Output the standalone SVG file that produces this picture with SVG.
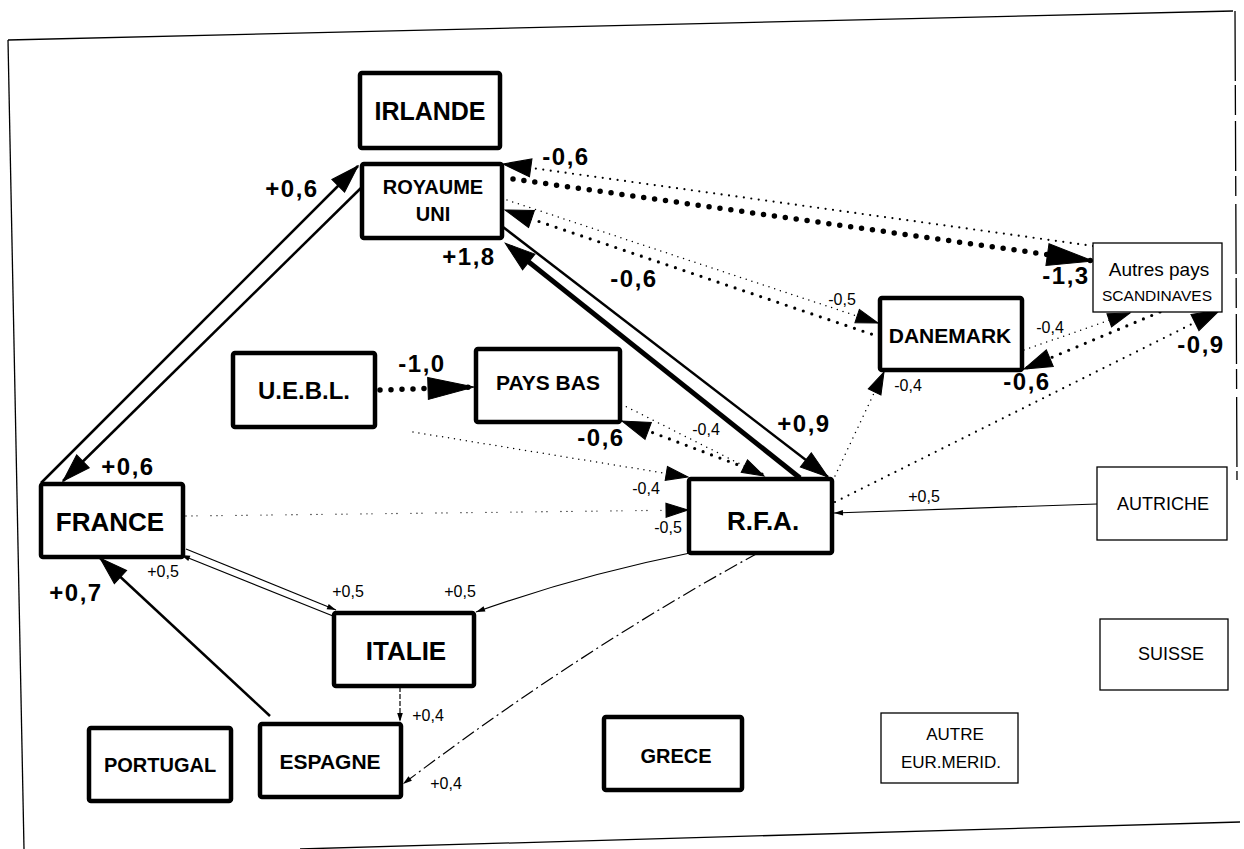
<svg xmlns="http://www.w3.org/2000/svg" width="1244" height="849" viewBox="0 0 1244 849">
<defs>
<style>
.thick{fill:#fff;stroke:#000;stroke-width:4.5}
.thin{fill:#fff;stroke:#000;stroke-width:1.3}
.nb{font-family:"Liberation Sans",Arial,sans-serif;font-weight:bold;text-anchor:middle;fill:#000}
.nr{font-family:"Liberation Sans",Arial,sans-serif;text-anchor:middle;fill:#000}
.lb{font-family:"Liberation Sans",Arial,sans-serif;font-weight:bold;font-size:24px;letter-spacing:1.5px;text-anchor:middle;fill:#000}
.ls{font-family:"Liberation Sans",Arial,sans-serif;font-size:16px;text-anchor:middle;fill:#000}
.sol{fill:none;stroke:#000;stroke-width:2.5}
.solh{fill:none;stroke:#000;stroke-width:5}
.solt{fill:none;stroke:#000;stroke-width:1.2}
.dbig{fill:none;stroke:#000;stroke-width:5.5;stroke-linecap:round;stroke-dasharray:0 11}
.dmed{fill:none;stroke:#000;stroke-width:3.2;stroke-linecap:round;stroke-dasharray:0 9}
.dsm{fill:none;stroke:#000;stroke-width:2.2;stroke-linecap:round;stroke-dasharray:0 7.5}
.dfine{fill:none;stroke:#000;stroke-width:1.5;stroke-linecap:round;stroke-dasharray:0 6}
.dsparse{fill:none;stroke:#000;stroke-width:1.3;stroke-linecap:round;stroke-dasharray:0 6 0 5 0 14}
.frame{fill:none;stroke:#000;stroke-width:1.3}
.head{fill:#000;stroke:#000;stroke-width:1;stroke-linejoin:miter}
</style>
<marker id="ahBig" markerUnits="userSpaceOnUse" viewBox="0 -13 46 26" refX="46" refY="0" markerWidth="46" markerHeight="26" orient="auto" overflow="visible"><path class="head" d="M0,-11 L46,0 L0,11 z"/></marker>
<marker id="ahMed" markerUnits="userSpaceOnUse" viewBox="0 -10 28 20" refX="28" refY="0" markerWidth="28" markerHeight="20" orient="auto" overflow="visible"><path class="head" d="M0,-9 L28,0 L0,9 z"/></marker>
<marker id="ahHeavy" markerUnits="userSpaceOnUse" viewBox="0 -11 30 22" refX="24" refY="0" markerWidth="30" markerHeight="22" orient="auto" overflow="visible"><path class="head" d="M0,-10 L30,0 L0,10 z"/></marker>
<marker id="ahSm" markerUnits="userSpaceOnUse" viewBox="0 -8 22 16" refX="22" refY="0" markerWidth="22" markerHeight="16" orient="auto" overflow="visible"><path class="head" d="M0,-7 L22,0 L0,7 z"/></marker>
<marker id="ahTiny" markerUnits="userSpaceOnUse" viewBox="0 -3 9 6" refX="9" refY="0" markerWidth="9" markerHeight="6" orient="auto" overflow="visible"><path d="M0,-2.8 L9,0 L0,2.8 z" fill="#000"/></marker>
</defs>
<rect width="1244" height="849" fill="#fff"/>
<g id="frame">
<path class="frame" d="M8,40 L1233,11"/>
<path class="frame" d="M8,40 L24,849"/>
<path class="frame" d="M300,849 L1240,822"/>
<path class="frame" d="M1235,11 L1237,480" stroke-dasharray="70 4 30 6 50 5 20 8"/>
</g>
<g id="connectors">
<path class="sol" d="M41,483 L358,166" marker-end="url(#ahMed)"/>
<path class="sol" d="M362,187 L63,481" marker-end="url(#ahMed)"/>
<path class="sol" d="M503,227 L828,477" marker-end="url(#ahMed)"/>
<path class="solh" d="M800,478 L510,247" marker-end="url(#ahHeavy)"/>
<path class="dbig" d="M513,179 L1093,261" marker-end="url(#ahBig)"/>
<path class="dsm" d="M1093,246 L503,164" marker-end="url(#ahMed)"/>
<path class="dmed" d="M880,337 L505,210" marker-end="url(#ahMed)"/>
<path class="dfine" d="M507,200 L878,323" marker-end="url(#ahSm)"/>
<path class="dbig" d="M380,390 L474,387" marker-end="url(#ahBig)"/>
<path class="dmed" d="M762,474 L622,421" marker-end="url(#ahMed)"/>
<path class="dfine" d="M621,404 L764,476" marker-end="url(#ahSm)"/>
<path class="dfine" d="M413,432 L688,477" marker-end="url(#ahSm)"/>
<path class="dsparse" d="M186,516 L688,510" marker-end="url(#ahSm)"/>
<path class="dfine" d="M835,476 L884,372" marker-end="url(#ahSm)"/>
<path class="dsm" d="M835,502 L1220,310" marker-end="url(#ahMed)"/>
<path class="dfine" d="M1024,350 L1130,313" marker-end="url(#ahSm)"/>
<path class="dmed" d="M1160,312 L1024,369" marker-end="url(#ahMed)"/>
<path class="solt" d="M1097,504 L834,513" marker-end="url(#ahTiny)"/>
<path class="solt" d="M186,549 L336,610" marker-end="url(#ahTiny)"/>
<path class="solt" d="M333,616 L181,555" marker-end="url(#ahTiny)"/>
<path class="solt" d="M690,553 Q580,575 476,612" marker-end="url(#ahTiny)"/>
<path class="solt" d="M758,553 Q580,650 403,784" stroke-dasharray="14 4 2 4" marker-end="url(#ahTiny)"/>
<path class="solt" d="M400,687 L400,722" stroke-dasharray="5 2" marker-end="url(#ahTiny)"/>
<path class="sol" d="M270,716 L100,558" marker-end="url(#ahMed)"/>
</g>
<g id="labels">
<text class="lb" x="292" y="197">+0,6</text>
<text class="lb" x="566" y="165">-0,6</text>
<text class="lb" x="469" y="265">+1,8</text>
<text class="lb" x="634" y="287">-0,6</text>
<text class="lb" x="1066" y="284">-1,3</text>
<text class="lb" x="422" y="372">-1,0</text>
<text class="lb" x="601" y="446">-0,6</text>
<text class="lb" x="804" y="432">+0,9</text>
<text class="lb" x="1201" y="353">-0,9</text>
<text class="lb" x="1027" y="390">-0,6</text>
<text class="lb" x="128" y="475">+0,6</text>
<text class="lb" x="76" y="601">+0,7</text>
<text class="ls" x="842" y="305">-0,5</text>
<text class="ls" x="706" y="435">-0,4</text>
<text class="ls" x="646" y="494">-0,4</text>
<text class="ls" x="668" y="533">-0,5</text>
<text class="ls" x="908" y="391">-0,4</text>
<text class="ls" x="1050" y="333">-0,4</text>
<text class="ls" x="924" y="502">+0,5</text>
<text class="ls" x="163" y="577">+0,5</text>
<text class="ls" x="348" y="597">+0,5</text>
<text class="ls" x="460" y="597">+0,5</text>
<text class="ls" x="428" y="721">+0,4</text>
<text class="ls" x="446" y="789">+0,4</text>
</g>
<g id="irlande"><rect class="thick" x="360" y="73" width="140" height="75" rx="2"/><text class="nb" x="430" y="120" font-size="25">IRLANDE</text></g>
<g id="royaume-uni"><rect class="thick" x="362" y="164" width="140" height="74" rx="2"/><text class="nb" x="433" y="194" font-size="20">ROYAUME</text><text class="nb" x="433" y="221" font-size="20">UNI</text></g>
<g id="uebl"><rect class="thick" x="233" y="353" width="142" height="74" rx="2"/><text class="nb" x="304" y="399" font-size="24">U.E.B.L.</text></g>
<g id="pays-bas"><rect class="thick" x="476" y="349" width="144" height="73" rx="2"/><text class="nb" x="548" y="390" font-size="21">PAYS BAS</text></g>
<g id="france"><rect class="thick" x="41" y="484" width="142" height="73" rx="2"/><text class="nb" x="110" y="531" font-size="26">FRANCE</text></g>
<g id="rfa"><rect class="thick" x="689" y="479" width="143" height="74" rx="2"/><text class="nb" x="763" y="530" font-size="26">R.F.A.</text></g>
<g id="danemark"><rect class="thick" x="880" y="298" width="142" height="72" rx="2"/><text class="nb" x="950" y="343" font-size="21">DANEMARK</text></g>
<g id="autres-scandinaves"><rect class="thin" x="1093" y="243" width="129" height="69"/><text class="nr" x="1159" y="276" font-size="19">Autres pays</text><text class="nr" x="1157" y="301" font-size="15.5">SCANDINAVES</text></g>
<g id="autriche"><rect class="thin" x="1097" y="467" width="130" height="73"/><text class="nr" x="1163" y="510" font-size="18">AUTRICHE</text></g>
<g id="suisse"><rect class="thin" x="1100" y="619" width="128" height="71"/><text class="nr" x="1171" y="660" font-size="18">SUISSE</text></g>
<g id="autre-eur-merid"><rect class="thin" x="881" y="713" width="137" height="70"/><text class="nr" x="955" y="740" font-size="17">AUTRE</text><text class="nr" x="951" y="768" font-size="17">EUR.MERID.</text></g>
<g id="grece"><rect class="thick" x="604" y="717" width="138" height="73" rx="2"/><text class="nb" x="676" y="763" font-size="20">GRECE</text></g>
<g id="italie"><rect class="thick" x="334" y="613" width="140" height="73" rx="2"/><text class="nb" x="406" y="660" font-size="26">ITALIE</text></g>
<g id="espagne"><rect class="thick" x="260" y="724" width="141" height="73" rx="2"/><text class="nb" x="330" y="769" font-size="21">ESPAGNE</text></g>
<g id="portugal"><rect class="thick" x="89" y="728" width="142" height="73" rx="2"/><text class="nb" x="160" y="772" font-size="20">PORTUGAL</text></g>
</svg>
